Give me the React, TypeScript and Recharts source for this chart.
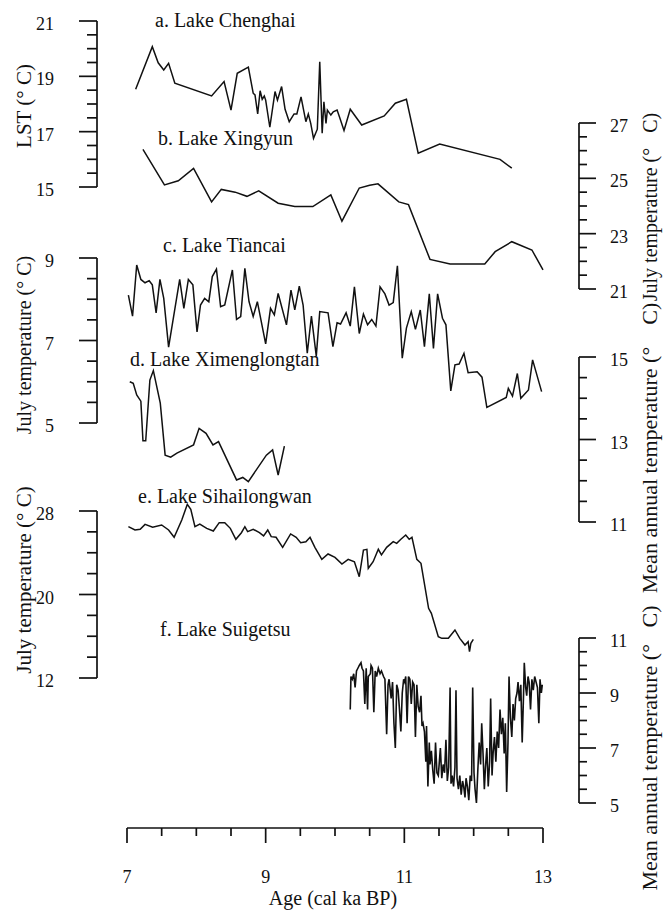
import React from 'react';
import { LineChart, Line, XAxis, YAxis } from 'recharts';

const W = 663;
const H = 916;
const SERIF = '"Liberation Serif", "Times New Roman", serif';
const INK = '#111';

// a. Lake Chenghai - LST (°C)
const chenghaiAge = [7.125, 7.365, 7.45, 7.53, 7.6, 7.69, 8.22, 8.4, 8.5, 8.59, 8.75, 8.82, 8.846, 8.885, 8.92, 8.95, 8.98, 9.0, 9.06, 9.135, 9.17, 9.23, 9.28, 9.34, 9.41, 9.45, 9.51, 9.58, 9.615, 9.65, 9.69, 9.745, 9.78, 9.815, 9.84, 9.87, 9.89, 9.94, 9.975, 10.03, 10.06, 10.13, 10.22, 10.385, 10.71, 10.87, 11.03, 11.2, 11.51, 12.38, 12.55];
const chenghaiLst = [18.53, 20.07, 19.49, 19.23, 19.47, 18.75, 18.29, 18.81, 17.78, 19.11, 19.33, 18.39, 18.33, 17.64, 18.48, 18.17, 18.29, 18.14, 17.16, 18.45, 18.14, 18.63, 17.81, 17.36, 17.64, 17.64, 18.26, 17.36, 17.64, 17.3, 16.76, 17.09, 19.53, 16.94, 18.08, 17.3, 17.78, 17.6, 17.72, 17.78, 17.57, 17.04, 17.81, 17.24, 17.57, 18.03, 18.17, 16.22, 16.55, 16.0, 15.68];

// b. Lake Xingyun - July temperature
const xingyunAge = [7.23, 7.54, 7.74, 7.96, 8.22, 8.36, 8.56, 8.73, 8.9, 9.18, 9.42, 9.68, 9.94, 10.1, 10.35, 10.5, 10.62, 10.92, 11.06, 11.37, 11.66, 12.16, 12.31, 12.55, 12.84, 13.0];
const xingyunJuly = [26.05, 24.76, 24.91, 25.36, 24.15, 24.6, 24.5, 24.35, 24.55, 24.1, 23.98, 23.98, 24.4, 23.45, 24.65, 24.75, 24.8, 24.15, 24.05, 22.07, 21.9, 21.9, 22.35, 22.71, 22.41, 21.69];

// c. Lake Tiancai - July temperature
const tiancaiAge = [7.02, 7.08, 7.14, 7.2, 7.26, 7.32, 7.365, 7.42, 7.475, 7.53, 7.6, 7.76, 7.82, 7.885, 7.95, 8.01, 8.06, 8.12, 8.18, 8.23, 8.29, 8.35, 8.41, 8.52, 8.58, 8.64, 8.7, 8.76, 8.82, 8.88, 9.0, 9.07, 9.125, 9.18, 9.3, 9.365, 9.42, 9.485, 9.54, 9.6, 9.66, 9.73, 9.78, 9.9, 9.97, 10.03, 10.08, 10.16, 10.22, 10.28, 10.35, 10.41, 10.47, 10.53, 10.59, 10.65, 10.72, 10.78, 10.84, 10.9, 10.97, 11.03, 11.1, 11.16, 11.23, 11.29, 11.36, 11.42, 11.48, 11.55, 11.6, 11.67, 11.73, 11.79, 11.86, 11.92, 12.05, 12.12, 12.19, 12.47, 12.5, 12.56, 12.63, 12.68, 12.79, 12.85, 12.98];
const tiancaiJuly = [8.1, 7.59, 8.83, 8.48, 8.4, 8.45, 8.35, 7.67, 8.48, 8.02, 6.84, 8.48, 7.78, 8.48, 8.35, 7.21, 7.86, 8.02, 7.94, 8.55, 8.73, 7.82, 7.86, 8.71, 7.51, 7.58, 8.75, 7.94, 7.58, 7.94, 6.92, 7.78, 7.62, 8.14, 7.38, 8.22, 7.74, 8.32, 7.86, 6.69, 7.59, 6.62, 7.7, 7.67, 6.85, 7.43, 7.4, 7.67, 7.35, 8.3, 7.17, 7.64, 7.38, 7.51, 7.35, 8.3, 8.13, 7.86, 7.92, 8.81, 6.57, 7.3, 7.7, 7.27, 7.74, 6.85, 8.13, 6.81, 8.13, 7.54, 7.38, 5.78, 6.41, 6.43, 6.69, 6.22, 6.24, 6.11, 5.38, 5.62, 5.84, 5.65, 6.2, 5.6, 5.8, 6.53, 5.76];

// d. Lake Ximenglongtan - mean annual temperature
const ximengAge = [7.04, 7.09, 7.14, 7.2, 7.23, 7.27, 7.33, 7.38, 7.48, 7.55, 7.63, 7.72, 7.96, 8.04, 8.14, 8.24, 8.32, 8.58, 8.67, 8.75, 9.01, 9.1, 9.18, 9.27];
const ximengMat = [14.4, 14.36, 14.08, 13.93, 12.97, 12.97, 14.44, 14.67, 13.88, 12.62, 12.57, 12.67, 12.87, 13.27, 13.15, 12.87, 12.95, 12.02, 12.08, 11.98, 12.62, 12.75, 12.14, 12.84];

// e. Lake Sihailongwan - July temperature
const sihaiAge = [7.02, 7.115, 7.19, 7.26, 7.37, 7.5, 7.6, 7.68, 7.79, 7.87, 7.92, 7.98, 8.05, 8.15, 8.245, 8.33, 8.41, 8.49, 8.57, 8.65, 8.7, 8.74, 8.82, 8.91, 8.97, 9.03, 9.08, 9.15, 9.245, 9.36, 9.44, 9.505, 9.58, 9.64, 9.71, 9.81, 9.9, 10.0, 10.1, 10.19, 10.28, 10.35, 10.41, 10.46, 10.48, 10.55, 10.625, 10.67, 10.745, 10.84, 10.89, 10.95, 11.02, 11.07, 11.11, 11.18, 11.24, 11.35, 11.39, 11.49, 11.54, 11.635, 11.73, 11.8, 11.875, 11.92, 11.94, 11.96, 11.995];
const sihaiJuly = [26.5, 26.18, 26.25, 26.72, 26.44, 26.66, 26.18, 25.48, 27.14, 28.64, 28.16, 26.5, 26.75, 26.34, 26.08, 26.88, 26.88, 26.34, 25.29, 25.92, 26.5, 26.02, 26.25, 25.92, 25.61, 26.18, 25.54, 25.48, 24.52, 25.8, 25.48, 24.97, 25.06, 25.48, 24.52, 23.37, 23.88, 23.56, 22.92, 23.37, 23.14, 21.71, 24.26, 24.33, 22.51, 23.14, 24.33, 23.79, 24.52, 25.06, 24.9, 25.29, 25.7, 25.29, 25.48, 23.37, 22.99, 18.68, 18.2, 15.96, 15.8, 15.8, 16.6, 15.8, 15.16, 15.48, 14.52, 15.33, 15.71];

// f. Lake Suigetsu - mean annual temperature
const suigetsuAge = [10.22, 10.23, 10.25, 10.27, 10.29, 10.31, 10.33, 10.35, 10.375, 10.39, 10.41, 10.43, 10.45, 10.47, 10.48, 10.51, 10.52, 10.54, 10.56, 10.58, 10.6, 10.625, 10.65, 10.67, 10.7, 10.72, 10.745, 10.765, 10.78, 10.81, 10.83, 10.85, 10.87, 10.89, 10.91, 10.93, 10.95, 10.97, 10.99, 11.005, 11.02, 11.04, 11.06, 11.08, 11.1, 11.12, 11.14, 11.16, 11.18, 11.2, 11.22, 11.24, 11.255, 11.27, 11.29, 11.31, 11.32, 11.34, 11.36, 11.37, 11.39, 11.41, 11.43, 11.45, 11.47, 11.49, 11.505, 11.52, 11.54, 11.56, 11.58, 11.6, 11.62, 11.64, 11.66, 11.673, 11.69, 11.71, 11.73, 11.745, 11.76, 11.78, 11.8, 11.82, 11.84, 11.856, 11.875, 11.89, 11.91, 11.93, 11.95, 11.97, 11.986, 12.005, 12.02, 12.04, 12.06, 12.08, 12.1, 12.116, 12.135, 12.154, 12.17, 12.19, 12.21, 12.23, 12.245, 12.265, 12.28, 12.3, 12.32, 12.34, 12.36, 12.38, 12.4, 12.42, 12.44, 12.457, 12.476, 12.495, 12.51, 12.53, 12.55, 12.568, 12.587, 12.606, 12.625, 12.64, 12.66, 12.68, 12.7, 12.72, 12.73, 12.75, 12.765, 12.784, 12.8, 12.82, 12.84, 12.86, 12.88, 12.9, 12.92, 12.94, 12.957, 12.976, 12.99];
const suigetsuMat = [8.4, 9.6, 9.5, 9.7, 9.2, 9.8, 9.9, 10.0, 10.1, 9.9, 9.8, 8.6, 9.9, 8.4, 9.6, 9.7, 10.0, 9.9, 8.3, 9.8, 9.6, 9.9, 9.7, 9.8, 9.6, 9.5, 7.5, 9.3, 9.5, 8.8, 9.4, 7.9, 7.0, 9.3, 9.1, 8.4, 7.6, 9.0, 9.5, 9.4, 9.6, 7.9, 9.6, 9.5, 8.6, 9.4, 9.3, 7.4, 9.3, 8.5, 8.3, 8.9, 7.8, 7.9, 7.6, 6.5, 7.8, 5.6, 7.2, 6.4, 6.9, 6.2, 5.7, 7.2, 6.1, 6.0, 6.5, 7.0, 5.9, 6.4, 6.1, 7.3, 5.8, 6.3, 9.2, 5.7, 6.0, 5.6, 6.3, 9.1, 5.9, 5.5, 6.0, 5.3, 5.8, 5.6, 5.2, 5.9, 5.6, 5.1, 6.0, 5.8, 9.2, 6.1, 5.5, 5.0, 6.2, 7.2, 6.4, 7.9, 6.8, 5.5, 6.3, 7.0, 5.6, 6.5, 8.8, 6.0, 6.8, 7.4, 6.5, 7.6, 7.0, 8.4, 7.5, 8.1, 6.8, 7.9, 5.4, 7.2, 9.6, 8.1, 7.4, 8.6, 8.0, 8.8, 9.0, 9.4, 8.7, 9.3, 7.2, 9.0, 10.1, 9.2, 8.9, 9.6, 9.4, 8.4, 9.5, 9.1, 9.6, 9.4, 9.2, 7.9, 9.5, 9.0, 9.3];

// axis ticks (minor every half step) and labelled values
const ageTicks = [7, 7.5, 8, 8.5, 9, 9.5, 10, 10.5, 11, 11.5, 12, 12.5, 13];
const ageLabels = [7, 9, 11, 13];
const lstTicks = [15, 15.5, 16, 16.5, 17, 17.5, 18, 18.5, 19, 19.5, 20, 20.5, 21];
const lstLabels = [15, 17, 19, 21];
const xingyunTicks = [21, 21.5, 22, 22.5, 23, 23.5, 24, 24.5, 25, 25.5, 26, 26.5, 27];
const xingyunLabels = [21, 23, 25, 27];
const tiancaiTicks = [5, 5.5, 6, 6.5, 7, 7.5, 8, 8.5, 9];
const tiancaiLabels = [5, 7, 9];
const ximengTicks = [11, 11.5, 12, 12.5, 13, 13.5, 14, 14.5, 15];
const ximengLabels = [11, 13, 15];
const sihaiTicks = [12, 14, 16, 18, 20, 22, 24, 26, 28];
const sihaiLabels = [12, 20, 28];
const suigetsuTicks = [5, 5.5, 6, 6.5, 7, 7.5, 8, 8.5, 9, 9.5, 10, 10.5, 11];
const suigetsuLabels = [5, 7, 9, 11];

type Side = 'left' | 'right';

const zip = (ages: number[], vals: number[]) => ages.map((age, i) => ({ age, v: vals[i] }));

const yTick = (side: Side, labels: number[]) => (props: any) => {
  const { x, y, payload } = props;
  const major = labels.includes(payload.value);
  const dir = side === 'left' ? -1 : 1;
  const len = major ? (side === 'left' ? 18 : 17) : side === 'left' ? 10 : 8;
  return (
    <g>
      <line x1={x} y1={y} x2={x + dir * len} y2={y} stroke={INK} strokeWidth={1.7} />
      {major && (
        <text
          x={side === 'left' ? x - 43 : x + 31}
          y={y + 9}
          textAnchor={side === 'left' ? 'end' : 'start'}
          fontFamily={SERIF}
          fontSize={18}
          fill={INK}
        >
          {payload.value}
        </text>
      )}
    </g>
  );
};

const xTick = (props: any) => {
  const { x, y, payload } = props;
  const major = ageLabels.includes(payload.value);
  return (
    <g>
      <line x1={x} y1={y} x2={x} y2={y + (major ? 15 : 8)} stroke={INK} strokeWidth={1.7} />
      {major && (
        <text x={x} y={y + 55} textAnchor="middle" fontFamily={SERIF} fontSize={18} fill={INK}>
          {payload.value}
        </text>
      )}
    </g>
  );
};

const Title = ({ x, y, children }: { x: number; y: number; children: React.ReactNode }) => (
  <text x={x} y={y} fontFamily={SERIF} fontSize={20} fill={INK}>
    {children}
  </text>
);

const AxisTitle = ({ x, y, size = 20, children }: { x: number; y: number; size?: number; children: React.ReactNode }) => (
  <text x={x} y={y} transform={`rotate(-90, ${x}, ${y})`} textAnchor="middle" fontFamily={SERIF} fontSize={size} fill={INK}>
    {children}
  </text>
);

interface PanelProps {
  ages: number[];
  vals: number[];
  domain: [number, number];
  ticks: number[];
  labels: number[];
  side: Side;
  top: number;
  bottom: number;
  width?: number;
  children?: React.ReactNode;
}

const Panel = ({ ages, vals, domain, ticks, labels, side, top, bottom, width = 1.5, children }: PanelProps) => (
  <div style={{ position: 'absolute', left: 0, top: 0 }}>
    <LineChart
      width={W}
      height={H}
      data={zip(ages, vals)}
      margin={{ top, bottom: H - bottom, left: side === 'left' ? 0 : 97, right: side === 'right' ? 0 : 84 }}
    >
      <XAxis type="number" dataKey="age" domain={[7, 13]} hide padding={{ left: 30, right: 36 }} />
      <YAxis
        orientation={side}
        width={side === 'left' ? 97 : 84}
        domain={domain}
        ticks={ticks}
        interval={0}
        allowDataOverflow
        tickSize={0}
        tickMargin={0}
        tickLine={false}
        axisLine={{ stroke: INK, strokeWidth: 1.7 }}
        tick={yTick(side, labels)}
      />
      <Line
        type="linear"
        dataKey="v"
        stroke={INK}
        strokeWidth={width}
        dot={false}
        activeDot={false}
        isAnimationActive={false}
      />
      {children}
    </LineChart>
  </div>
);

export default function App() {
  return (
    <div style={{ position: 'absolute', left: 0, top: 0, width: W, height: H, background: '#fff' }}>
      <style>{`svg [clip-path]{clip-path:none !important}`}</style>

      <Panel ages={chenghaiAge} vals={chenghaiLst} domain={[15, 21]} ticks={lstTicks} labels={lstLabels} side="left" top={21} bottom={187}>
        <Title x={155} y={27}>a. Lake Chenghai</Title>
        <AxisTitle x={31} y={106} size={21}>LST (°{'\u00A0'}C)</AxisTitle>
      </Panel>

      <Panel ages={xingyunAge} vals={xingyunJuly} domain={[21, 27]} ticks={xingyunTicks} labels={xingyunLabels} side="right" top={123} bottom={289}>
        <Title x={158} y={145}>b. Lake Xingyun</Title>
        <AxisTitle x={657} y={207}>July temperature (°{'\u00A0\u00A0\u00A0'}C)</AxisTitle>
      </Panel>

      <Panel ages={tiancaiAge} vals={tiancaiJuly} domain={[5, 9]} ticks={tiancaiTicks} labels={tiancaiLabels} side="left" top={258} bottom={423}>
        <Title x={163} y={252}>c. Lake Tiancai</Title>
        <AxisTitle x={31} y={345}>July temperature (°{'\u00A0'}C)</AxisTitle>
      </Panel>

      <Panel ages={ximengAge} vals={ximengMat} domain={[11, 15]} ticks={ximengTicks} labels={ximengLabels} side="right" top={357} bottom={522}>
        <Title x={130} y={366}>d. Lake Ximenglongtan</Title>
        <AxisTitle x={657} y={448} size={22}>Mean annual temperature (°{'\u00A0\u00A0\u00A0\u00A0'}C)</AxisTitle>
      </Panel>

      <Panel ages={sihaiAge} vals={sihaiJuly} domain={[12, 28]} ticks={sihaiTicks} labels={sihaiLabels} side="left" top={511} bottom={678}>
        <Title x={138} y={503}>e. Lake Sihailongwan</Title>
        <AxisTitle x={31} y={580} size={21}>July temperature (°{'\u00A0'}C)</AxisTitle>
      </Panel>

      <Panel ages={suigetsuAge} vals={suigetsuMat} domain={[5, 11]} ticks={suigetsuTicks} labels={suigetsuLabels} side="right" top={638} bottom={803} width={1.6}>
        <Title x={160} y={636}>f. Lake Suigetsu</Title>
        <AxisTitle x={657} y={748} size={22}>Mean annual temperature (°{'\u00A0\u00A0\u00A0'}C)</AxisTitle>
      </Panel>

      <div style={{ position: 'absolute', left: 0, top: 0 }}>
        <LineChart width={W} height={H} data={zip(sihaiAge, sihaiJuly)} margin={{ top: 0, right: 120, bottom: 0, left: 127 }}>
          <XAxis
            type="number"
            dataKey="age"
            domain={[7, 13]}
            ticks={ageTicks}
            interval={0}
            height={88}
            tickSize={0}
            tickMargin={0}
            tickLine={false}
            axisLine={{ stroke: INK, strokeWidth: 1.7 }}
            tick={xTick}
          />
          <YAxis hide domain={[0, 40]} />
          <text x={333} y={905} textAnchor="middle" fontFamily={SERIF} fontSize={20} fill={INK}>
            Age (cal ka BP)
          </text>
        </LineChart>
      </div>
    </div>
  );
}
